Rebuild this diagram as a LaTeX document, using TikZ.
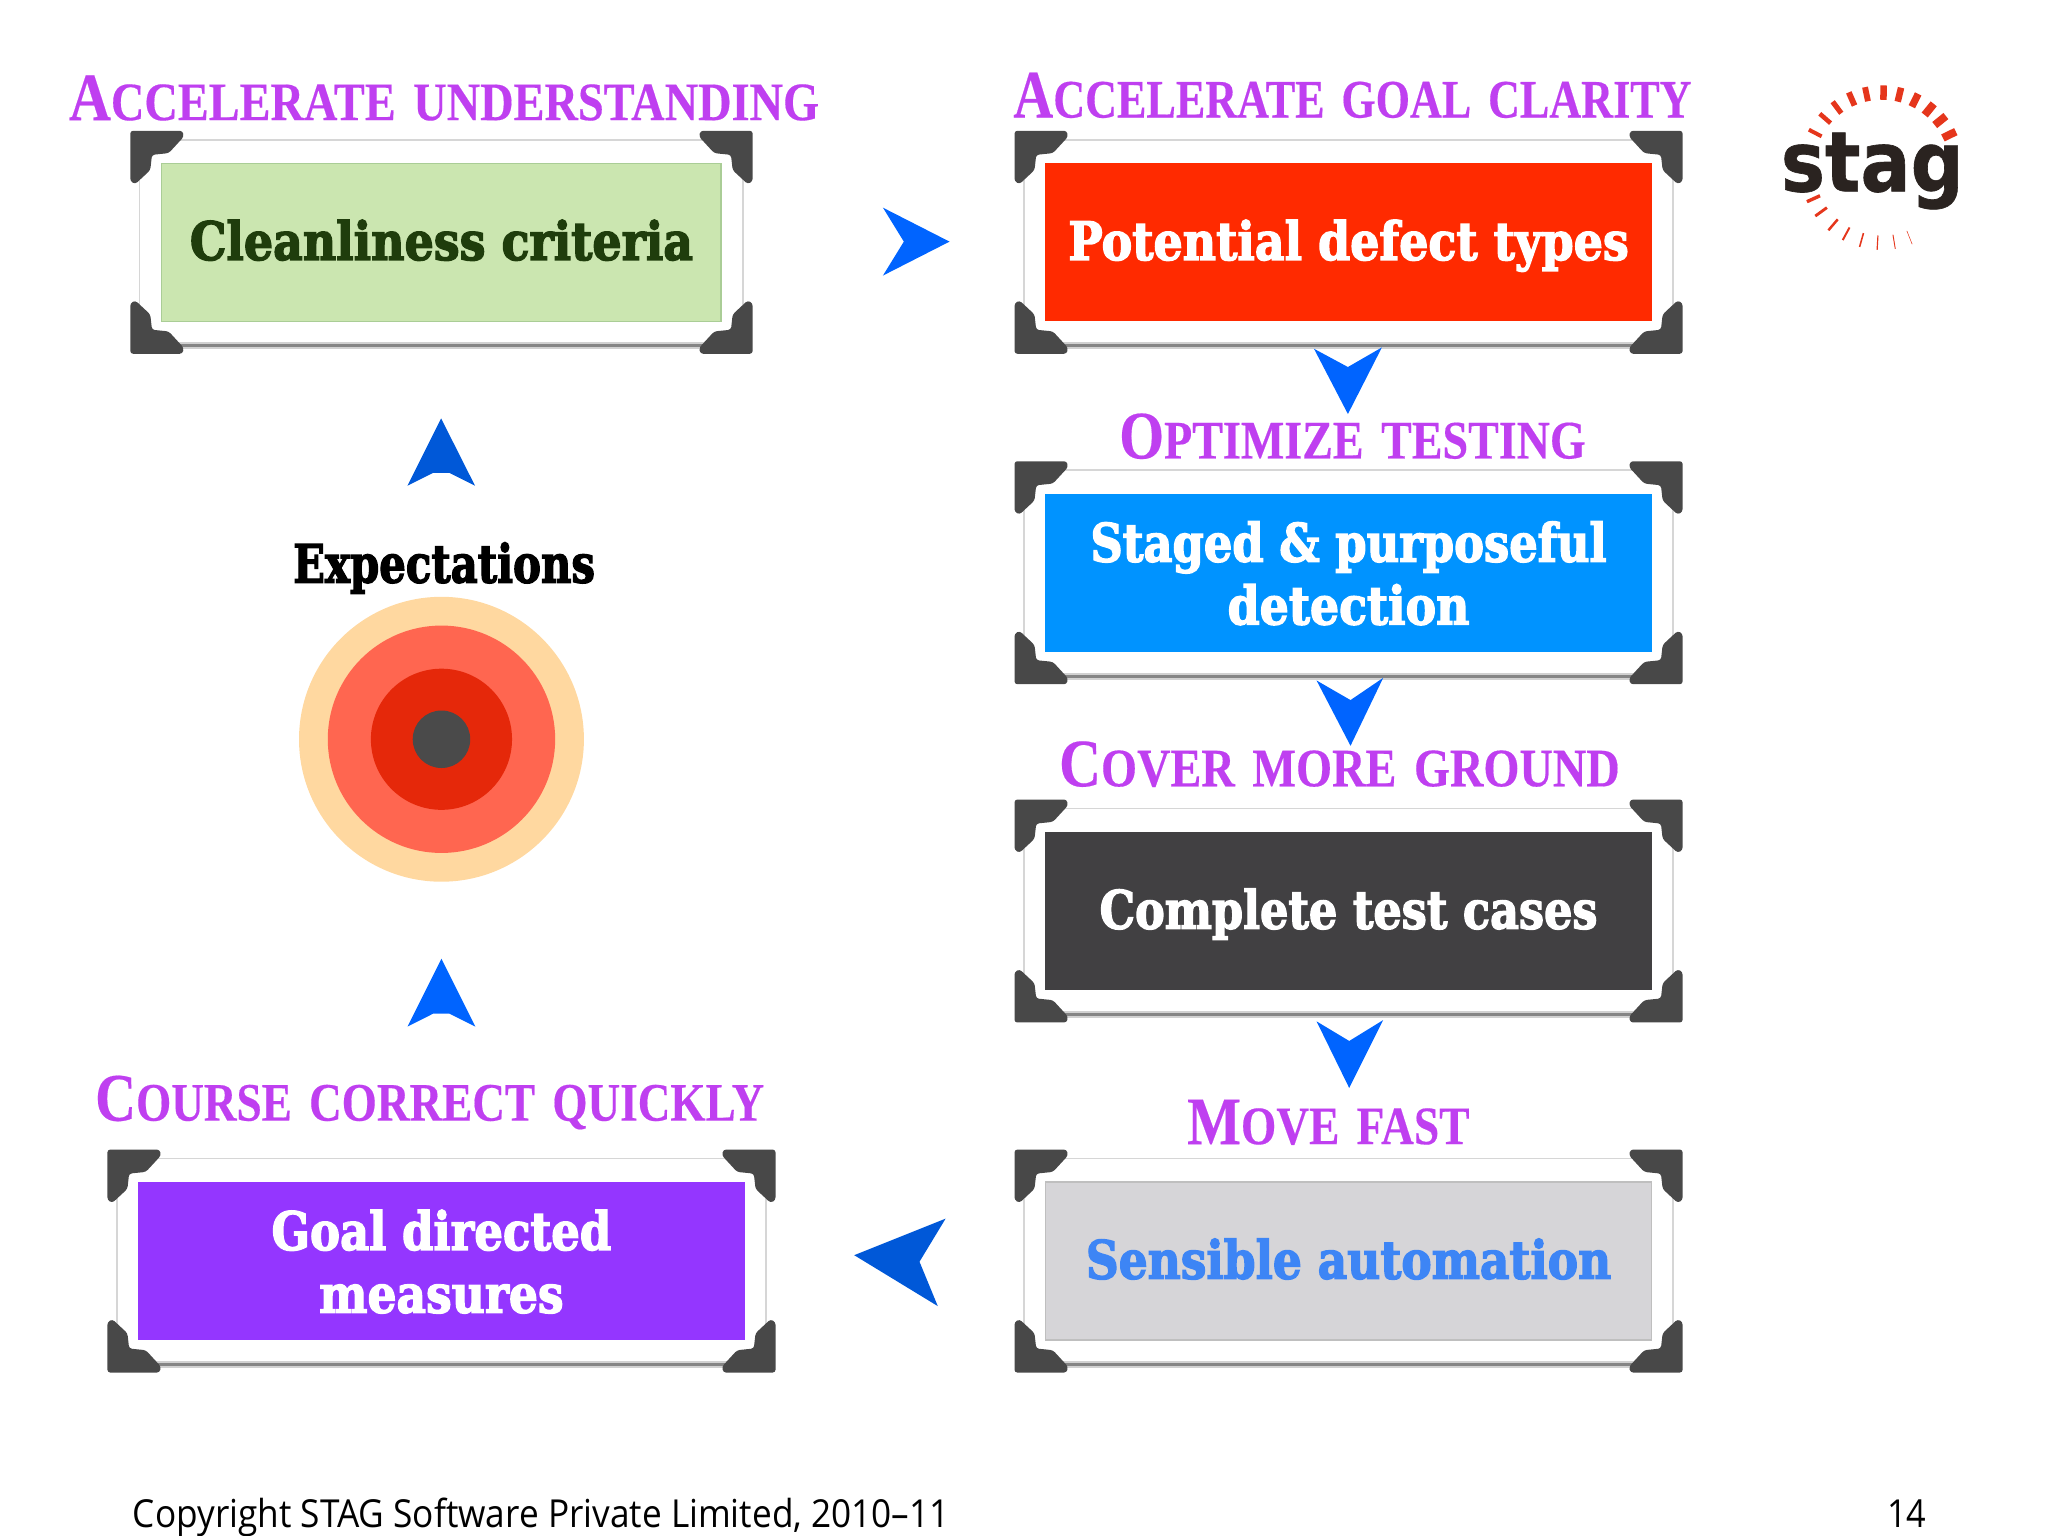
\documentclass[tikz,border=0pt]{standalone}
\usepackage{fontspec}
\setmainfont{Liberation Serif}
\newfontfamily\slabfont{DejaVu Serif}[FakeBold=2.8]
\newfontfamily\headfont{Liberation Serif}[FakeBold=0.3]
\newfontfamily\footfont{Open Sans}
\newfontfamily\logofont{DejaVu Sans}[FakeBold=0.8]

\definecolor{headpurple}{HTML}{BF3FF0}
\definecolor{cornerdark}{HTML}{484848}
\definecolor{arrowblue}{HTML}{0064FF}
\definecolor{arrowdeep}{HTML}{0058D8}
\definecolor{logored}{HTML}{E5361C}
\definecolor{logoink}{HTML}{2A2320}
\definecolor{greenfill}{HTML}{CBE6B0}
\definecolor{greenedge}{HTML}{AACD96}
\definecolor{greentext}{HTML}{1F3D0C}
\definecolor{redfill}{HTML}{FF2A00}
\definecolor{bluefill}{HTML}{0093FF}
\definecolor{darkfill}{HTML}{414042}
\definecolor{greyfill}{HTML}{D6D5D8}
\definecolor{greytext}{HTML}{3D85F5}
\definecolor{purplefill}{HTML}{9436FF}
\definecolor{ringa}{HTML}{FFD8A0}
\definecolor{ringb}{HTML}{FF6650}
\definecolor{ringc}{HTML}{E5280A}
\definecolor{ringd}{HTML}{4A4A4A}

% one line of text squeezed to a measured width, on a fixed strut
\newcommand{\tline}[3][.10]{\rule[-#1cm]{0pt}{.47cm}\resizebox{#2cm}{\height}{#3}}
% heading: big first letter, small caps by hand
\newcommand{\hd}[3]{\resizebox{#1cm}{\height}{\headfont\bfseries\fontsize{14.8}{16}\selectfont #2\fontsize{11.8}{13}\selectfont\spaceskip=.38em #3}}

\tikzset{
  frame/.style={fill=white,draw=black!16,line width=0.4pt,inner sep=0,minimum height=1.57cm},
  box/.style={inner sep=0,minimum height=1.21cm,align=center,font=\slabfont\bfseries\fontsize{11.5}{13.66}\selectfont,line width=0.3pt},
  heading/.style={anchor=base,inner sep=0,text=headpurple},
  shadowwide/.style={draw=black!18,line width=1.6pt},
  shadowline/.style={draw=black!48,line width=0.7pt},
  corner/.pic={\fill[cornerdark,rounded corners=0.6pt] (-6.4,-6.1) -- (33.6,-6.1) -- (34.6,-1.6) -- (23,11) -- (10.2,12.3) -- (8.9,24) -- (-2.6,34.7) -- (-6.4,32.6) -- cycle;}
}

% id, centre x, centre y, frame width, box width, box look, text
\newcommand{\panel}[7]{
  \node[frame,minimum width=#4cm] (f#1) at (#2,#3) {};
  \draw[shadowwide] (f#1.south west) -- (f#1.south east);
  \draw[shadowline] (f#1.south west) -- (f#1.south east);
  \pic at (f#1.north west) {corner};
  \pic[xscale=-1] at (f#1.north east) {corner};
  \pic[yscale=-1] at (f#1.south west) {corner};
  \pic[xscale=-1,yscale=-1] at (f#1.south east) {corner};
  \node[box,minimum width=#5cm,#6] (b#1) at (#2,#3) {#7};
}

\begin{document}
\begin{tikzpicture}[x=0.01cm,y=-0.01cm]
\useasboundingbox (0,0) rectangle (1568,1176);

% panels
\panel{1}{338}{185.5}{4.62}{4.28}{fill=greenfill,draw=greenedge,text=greentext}{\tline{3.85}{Cleanliness criteria}}
\panel{2}{1032.5}{185.5}{4.97}{4.64}{fill=redfill,text=white}{\tline{4.29}{Potential defect types}}
\panel{3}{1032.5}{438.5}{4.97}{4.64}{fill=bluefill,text=white}{\tline[.08]{3.95}{Staged \& purposeful}\\\tline[.08]{1.85}{detection}}
\panel{4}{1032.5}{697.5}{4.97}{4.64}{fill=darkfill,text=white}{\tline{3.81}{Complete test cases}}
\panel{5}{1032.5}{965.5}{4.97}{4.64}{fill=greyfill,draw=black!25,text=greytext}{\tline{4.02}{Sensible automation}}
\panel{6}{338}{965.5}{4.97}{4.64}{fill=purplefill,text=white}{\tline[.08]{2.60}{Goal directed}\\\tline[.08]{1.87}{measures}}

% headings
\node[heading] (h1) at (340,92) {\hd{5.74}{A}{CCELERATE UNDERSTANDING}};
\node[heading] (h2) at (1035.5,90) {\hd{5.19}{A}{CCELERATE GOAL CLARITY}};
\node[heading] (h3) at (1035.5,351) {\hd{3.57}{O}{PTIMIZE TESTING}};
\node[heading] (h4) at (1025.5,602) {\hd{4.29}{C}{OVER MORE GROUND}};
\node[heading] (h5) at (1017,876) {\hd{2.16}{M}{OVE FAST}};
\node[heading] (h6) at (329,858) {\hd{5.12}{C}{OURSE CORRECT QUICKLY}};

% arrow heads
\fill[arrowblue] (727,185) -- (676,159) -- (692,185) -- (676,211) -- cycle;
\fill[arrowblue] (1032,317) -- (1006,267) -- (1032,281) -- (1058,266) -- cycle;
\fill[arrowblue] (1034,571) -- (1008,521) -- (1034,536) -- (1059,519) -- cycle;
\fill[arrowblue] (1033,833) -- (1008,782) -- (1033,797) -- (1059,781) -- cycle;
\fill[arrowdeep] (654,961) -- (724,933) -- (704,966) -- (718,1000) -- cycle;
\fill[arrowdeep] (337.7,320.3) -- (311.9,371.9) -- (331.8,362) -- (344,362) -- (363.7,371.9) -- cycle;
\fill[arrowblue] (338,734) -- (312,786) -- (331.8,776) -- (344,776) -- (364,786) -- cycle;

% target
\node[anchor=base,inner sep=0] (exp) at (340,446) {\slabfont\bfseries\fontsize{11.5}{13}\selectfont\resizebox{2.31cm}{\height}{Expectations}};
\fill[ringa] (338,566) circle[radius=1.09cm];
\fill[ringb] (338,566) circle[radius=.87cm];
\fill[ringc] (338,566) circle[radius=.54cm];
\fill[ringd] (338,566) circle[radius=.22cm];

% logo
\node[anchor=base,inner sep=0,text=logoink] (logo) at (1433.5,146.5) {\resizebox{1.40cm}{\height}{\logofont\bfseries\fontsize{18.2}{20}\selectfont stag}};
\begin{scope}[shift={(1440.8,128.4)},y=0.01cm]
  \foreach \a/\w in {152.5/3,139/3.5,126.7/4,113.7/4.5,101.8/4.5,88.7/5,76.5/5,63.8/5.5,50.9/6,38.9/6,26/6,
                     204.4/2.6,216/2.2,229.5/1.9,241.6/1.5,254.3/1.2,266.7/.9,279.4/.7,291.6/.4}
    \draw[logored,line width=\w*0.01cm] (\a:52) -- (\a:63);
\end{scope}

% footer
\node[anchor=base,inner sep=0] (copy) at (414.5,1169.5) {\resizebox{6.25cm}{\height}{\footfont\fontsize{8.4}{10}\selectfont Copyright STAG Software Private Limited, 2010–11}};
\node[anchor=base,inner sep=0] (page) at (1460,1169.5) {\resizebox{.30cm}{\height}{\footfont\fontsize{8.4}{10}\selectfont 14}};
\end{tikzpicture}
\end{document}
